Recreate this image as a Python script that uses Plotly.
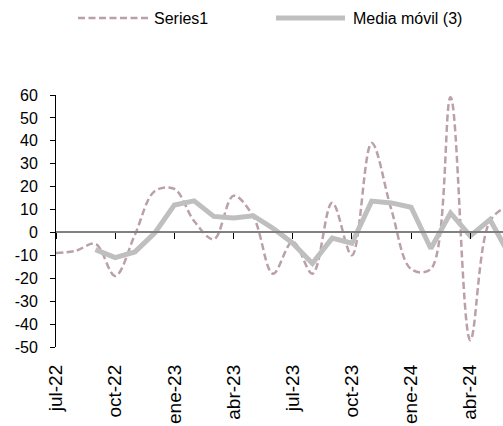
import plotly.graph_objects as go

months = ["jul-22", "ago-22", "sep-22", "oct-22", "nov-22", "dic-22",
          "ene-23", "feb-23", "mar-23", "abr-23", "may-23", "jun-23",
          "jul-23", "ago-23", "sep-23", "oct-23", "nov-23", "dic-23",
          "ene-24", "feb-24", "mar-24", "abr-24", "may-24", "jun-24"]
series1 = [-9, -8, -5, -19, -1, 18,
           19, 5, -3, 16, 7, -18,
           -4, -18, 13, -10, 39, 10,
           -16, -16, 59, -47, 5, 12]
ma_months = months[2:]
ma3 = [-7.5, -11, -8.5, -0.3,
       12, 13.8, 7, 6.3, 7.3, 1.8,
       -4.7, -13.5, -2.5, -4.7, 13.7, 12.9,
       11, -7, 8.5, -1.5, 5.6, -10]
tick_months = ["jul-22", "oct-22", "ene-23", "abr-23", "jul-23", "oct-23", "ene-24", "abr-24"]
y_ticks = list(range(-50, 61, 10))
y_ticktext = [str(v) for v in y_ticks]

dash_color = "#BBA0AB"
ma_color = "#BFBFBF"
font = "Liberation Sans, Arial, sans-serif"

fig = go.Figure()
fig.add_trace(go.Scatter(x=months, y=series1, mode="lines", name="Series1",
                         line=dict(color=dash_color, width=2.5, dash="7px,3.5px", shape="spline", smoothing=1.0),
                         showlegend=False))
fig.add_trace(go.Scatter(x=ma_months, y=ma3, mode="lines", name="Media móvil (3)",
                         line=dict(color=ma_color, width=5),
                         showlegend=False))

ymin, ymax = -50, 60
zero_pos = (0 - ymin) / (ymax - ymin)

fig.update_layout(
    width=503, height=426,
    margin=dict(l=56, r=0, t=95, b=79),
    paper_bgcolor="white", plot_bgcolor="white",
    font=dict(family=font, size=16, color="black"),
    xaxis=dict(type="category", categoryorder="array", categoryarray=months,
               range=[0, 22.66], showgrid=False, zeroline=False, showline=False,
               ticks="", tickmode="array", tickvals=tick_months, ticktext=tick_months,
               tickangle=-90, tickfont=dict(size=19), ticklabelstandoff=13),
    xaxis2=dict(type="category", categoryorder="array", categoryarray=months,
                range=[0, 22.66], overlaying="x", anchor="free", position=zero_pos,
                side="bottom", showgrid=False, zeroline=False, showline=True,
                linecolor="#808080", linewidth=2, ticks="outside", ticklen=6,
                tickcolor="black", tickwidth=1, tickmode="array", tickvals=tick_months,
                showticklabels=False),
    yaxis=dict(range=[ymin, ymax], tickmode="array", tickvals=y_ticks, ticktext=y_ticktext,
               showgrid=False, zeroline=False, showline=True, linecolor="black",
               linewidth=1, ticks="outside", ticklen=5, tickcolor="black",
               tickfont=dict(size=16), ticklabelstandoff=9),
)

# invisible trace so xaxis2 (zero line with ticks) is rendered
fig.add_trace(go.Scatter(x=[months[0]], y=[0], xaxis="x2", mode="markers",
                         marker=dict(opacity=0), showlegend=False, hoverinfo="skip"))

# manual legend
plot_w = 503 - 56
plot_h = 426 - 95 - 79
def px(xp):
    return (xp - 56) / plot_w
def py(yp):
    return (426 - 79 - yp) / plot_h

fig.add_shape(type="line", xref="paper", yref="paper",
              x0=px(78), x1=px(148), y0=py(18), y1=py(18),
              line=dict(color=dash_color, width=2.5, dash="7px,3.5px"))
fig.add_shape(type="line", xref="paper", yref="paper",
              x0=px(276), x1=px(345), y0=py(18), y1=py(18),
              line=dict(color=ma_color, width=5))
fig.add_annotation(text="Series1", xref="paper", yref="paper", x=px(152), y=py(18),
                   xanchor="left", yanchor="middle", showarrow=False,
                   font=dict(family=font, size=16, color="black"))
fig.add_annotation(text="Media móvil (3)", xref="paper", yref="paper", x=px(351), y=py(18),
                   xanchor="left", yanchor="middle", showarrow=False,
                   font=dict(family=font, size=16, color="black"))

fig.write_html("out.html", config={"displayModeBar": False},
               post_script="document.body.style.margin='0';document.body.style.overflow='hidden';")
